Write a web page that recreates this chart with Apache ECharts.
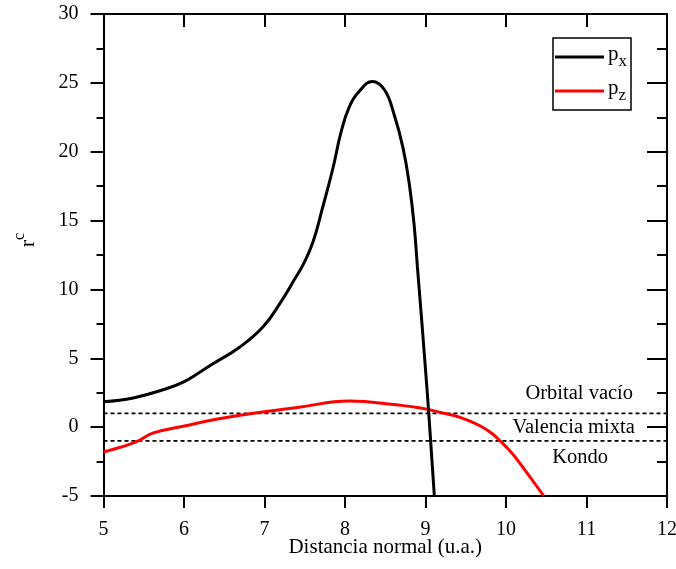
<!DOCTYPE html>
<html>
<head>
<meta charset="utf-8">
<script src="https://cdn.jsdelivr.net/npm/echarts@6/dist/echarts.min.js"></script>
<style>html,body{margin:0;padding:0;background:#fff}#c{width:676px;height:569px}</style>
</head>
<body>
<div id="c"></div>
<script>
var pxX = [5, 5.37, 5.78, 5.99, 6.2, 6.36, 6.69, 6.98, 7.19, 7.39, 7.48, 7.60, 7.72, 7.85, 7.95, 8.05, 8.18, 8.34, 8.49, 8.61, 8.72, 8.80, 8.86, 8.90, 9.02, 9.11];
var pxY = [1.85, 2.12, 2.79, 3.27, 4.0, 4.6, 5.8, 7.27, 8.97, 10.9, 11.8, 13.4, 15.9, 18.8, 21.4, 23.2, 24.4, 25.1, 24.5, 22.7, 20.3, 17.6, 14.6, 11.6, 2.67, -5];
var pzX = [5, 5.2, 5.41, 5.62, 5.99, 6.4, 6.82, 7.19, 7.43, 8.05, 8.67, 8.92, 9.17, 9.42, 9.67, 9.83, 9.93, 10.08, 10.24, 10.47];
var pzY = [-1.8, -1.48, -1.06, -0.42, 0.06, 0.57, 0.97, 1.26, 1.45, 1.89, 1.6, 1.41, 1.09, 0.73, 0.12, -0.48, -1.02, -1.93, -3.15, -5];
var thresholds = [1, -1];
var regionLabels = ['Orbital vacío', 'Valencia mixta', 'Kondo'];
var xRange = [5, 12];
var yRange = [-5, 30];

function pairs(xs, ys) { return xs.map(function (x, i) { return [x, ys[i]]; }); }

var FONT = '"Liberation Serif", "Times New Roman", serif';
var chart = echarts.init(document.getElementById('c'));

var series = [
  { name: 'px', type: 'line', data: pairs(pxX, pxY), smooth: 0.45, symbol: 'none',
    lineStyle: { color: '#000', width: 3 }, itemStyle: { color: '#000' }, z: 5 },
  { name: 'pz', type: 'line', data: pairs(pzX, pzY), smooth: 0.45, symbol: 'none',
    lineStyle: { color: '#ff0000', width: 3 }, itemStyle: { color: '#ff0000' }, z: 4 }
];
thresholds.forEach(function (t) {
  series.push({ type: 'line', data: [[xRange[0], t], [xRange[1], t]], symbol: 'none', silent: true,
    lineStyle: { color: '#000', width: 1.6, type: [4, 3] }, z: 3 });
});

var baseAxisLine = { show: true, onZero: false, lineStyle: { color: '#000', width: 2 } };

chart.setOption({
  animation: false,
  backgroundColor: '#fff',
  grid: { left: 103.5, right: 9, top: 14, bottom: 73, containLabel: false, outerBoundsMode: 'none' },
  legend: {
    orient: 'vertical', left: 553, top: 38,
    data: [{ name: 'px', icon: 'rect' }, { name: 'pz', icon: 'rect' }],
    itemWidth: 49, itemHeight: 3, itemGap: 8,
    borderColor: '#000', borderWidth: 1.5, borderRadius: 0,
    padding: [6, 4, 6, 2],
    formatter: function (n) { return '{p|p}{s|' + n.slice(1) + '}'; },
    textStyle: {
      color: '#000', fontFamily: FONT, padding: [0, 0, 0, -1],
      rich: {
        p: { fontSize: 21, fontFamily: FONT, color: '#000', lineHeight: 26, verticalAlign: 'top' },
        s: { fontSize: 17, fontFamily: FONT, color: '#000', lineHeight: 26, verticalAlign: 'bottom', padding: [6, 0, 0, 0] }
      }
    }
  },
  xAxis: [
    { type: 'value', position: 'bottom', min: xRange[0], max: xRange[1], interval: 1,
      axisLine: baseAxisLine, splitLine: { show: false },
      axisTick: { show: true, length: 12, inside: false, lineStyle: { color: '#000', width: 2 } },
      axisLabel: { color: '#000', fontFamily: FONT, fontSize: 20, margin: 24 },
      name: 'Distancia normal (u.a.)', nameLocation: 'middle', nameGap: 41, nameMoveOverlap: false,
      nameTextStyle: { color: '#000', fontFamily: FONT, fontSize: 21 } },
    { type: 'value', position: 'top', min: xRange[0], max: xRange[1], interval: 1,
      axisLine: baseAxisLine, splitLine: { show: false },
      axisTick: { show: true, length: 13, inside: true, lineStyle: { color: '#000', width: 2 } },
      axisLabel: { show: false } }
  ],
  yAxis: [
    { type: 'value', position: 'left', min: yRange[0], max: yRange[1], interval: 5,
      axisLine: baseAxisLine, splitLine: { show: false },
      axisTick: { show: true, length: 13, inside: false, lineStyle: { color: '#000', width: 2 } },
      minorTick: { show: true, splitNumber: 2, length: 7, lineStyle: { color: '#000', width: 2 } },
      axisLabel: { color: '#000', fontFamily: FONT, fontSize: 20, margin: 25 },
      name: '{r|r}{c|c}', nameLocation: 'middle', nameGap: 64, nameRotate: 90, nameMoveOverlap: false,
      nameTextStyle: { color: '#000', fontFamily: FONT, padding: [0, 0, 0, 30],
        rich: {
          r: { fontSize: 22, fontFamily: FONT, color: '#000', lineHeight: 28, verticalAlign: 'bottom' },
          c: { fontSize: 16, fontFamily: FONT, color: '#000', lineHeight: 28, verticalAlign: 'top' }
        } } },
    { type: 'value', position: 'right', min: yRange[0], max: yRange[1], interval: 5,
      axisLine: baseAxisLine, splitLine: { show: false },
      axisTick: { show: true, length: 20, inside: true, lineStyle: { color: '#000', width: 2 } },
      minorTick: { show: true, splitNumber: 2, length: 10, lineStyle: { color: '#000', width: 2 } },
      axisLabel: { show: false } }
  ],
  series: series
});

// region labels placed between the threshold lines
var labelXs = [10.91, 10.84, 10.92];
var labelYs = [thresholds[0] + 1.4, (thresholds[0] + thresholds[1]) / 2, thresholds[1] - 1.2];
var g = regionLabels.map(function (t, i) {
  var p = chart.convertToPixel({ xAxisIndex: 0, yAxisIndex: 0 }, [labelXs[i], labelYs[i]]);
  return { type: 'text', x: p[0], y: p[1],
    style: { text: t, fill: '#000', font: '20.5px ' + FONT, textAlign: 'center', textVerticalAlign: 'middle' }, z: 10 };
});
chart.setOption({ graphic: g });
</script>
</body>
</html>
